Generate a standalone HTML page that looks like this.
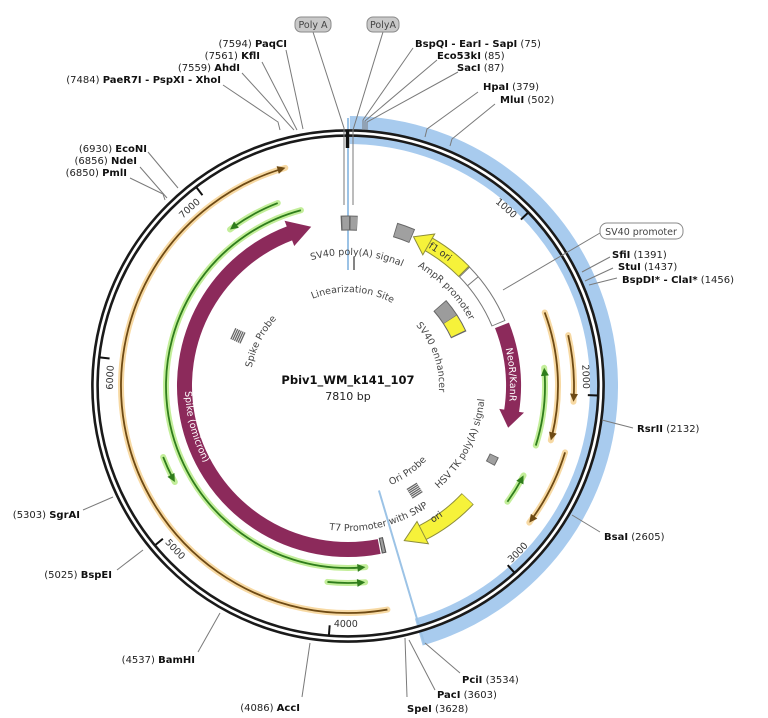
<!DOCTYPE html>
<html><head><meta charset="utf-8">
<style>
html,body{margin:0;padding:0;background:#fff;}
svg{display:block;font-family:"DejaVu Sans","Liberation Sans",sans-serif;}
.e{font-size:10px;fill:#222;}
.e .b{font-weight:bold;fill:#111;}
.c{font-size:9.5px;fill:#444;}
.w{font-size:9.5px;fill:#fff;}
.ld{stroke:#7a7a7a;stroke-width:1;fill:none;}
.a{fill:none;}
</style></head>
<body>
<svg width="768" height="718" viewBox="0 0 768 718" xmlns="http://www.w3.org/2000/svg">
<defs>
<path id="w131" d="M234.55 320.5 A131 131 0 0 1 461.45 320.5" fill="none"/>
<path id="w94" d="M266.60 339 A94 94 0 0 1 429.40 339" fill="none"/>
<path id="w138" d="M228.49 317 A138 138 0 0 1 467.51 317" fill="none"/>
<path id="w91" d="M269.19 340.5 A91 91 0 0 1 426.81 340.5" fill="none"/>
<path id="w98" d="M263.13 337 A98 98 0 0 1 432.87 337" fill="none"/>
<path id="w160" d="M209.44 306 A160 160 0 0 1 486.56 306" fill="none"/>
<path id="w162" d="M207.70 305 A162 162 0 0 1 488.30 305" fill="none"/>
<path id="w235" d="M144.48 268.5 A235 235 0 0 1 551.52 268.5" fill="none"/>
<path id="c137" d="M229.36 454.5 A137 137 0 0 0 466.64 454.5" fill="none"/>
<path id="c145" d="M222.43 458.5 A145 145 0 0 0 473.57 458.5" fill="none"/>
<path id="c108" d="M254.47 440 A108 108 0 0 0 441.53 440" fill="none"/>
<path id="c161" d="M208.57 466.5 A161 161 0 0 0 487.43 466.5" fill="none"/>
<path id="c163" d="M206.84 467.5 A163 163 0 0 0 489.16 467.5" fill="none"/>
<path id="c241" d="M139.29 506.5 A241 241 0 0 0 556.71 506.5" fill="none"/>
</defs>

<!-- blue band -->
<circle class="a" cx="348" cy="386" r="256" pathLength="360" stroke="#a8cbee" stroke-width="28" stroke-dasharray="163.6 400" transform="rotate(-89.6 348 386)"/>
<line x1="348" y1="118" x2="348" y2="270" stroke="#9cc3e6" stroke-width="2"/>
<line x1="378.96" y1="490.51" x2="424.69" y2="644.88" stroke="#9cc3e6" stroke-width="2"/>

<!-- ring -->
<circle class="a" cx="348" cy="386" r="253" stroke="#fff" stroke-width="6"/>
<circle class="a" cx="348" cy="386" r="255.6" stroke="#1a1a1a" stroke-width="2.6"/>
<circle class="a" cx="348" cy="386" r="250.4" stroke="#1a1a1a" stroke-width="2.6"/>
<line x1="347.5" y1="130" x2="347.5" y2="148" stroke="#111" stroke-width="3.5"/>
<g stroke="#111" stroke-width="2">
<line x1="348" y1="136" x2="348" y2="146" transform="rotate(46.09 348 386)"/>
<line x1="348" y1="136" x2="348" y2="146" transform="rotate(92.19 348 386)"/>
<line x1="348" y1="136" x2="348" y2="146" transform="rotate(138.28 348 386)"/>
<line x1="348" y1="136" x2="348" y2="146" transform="rotate(184.38 348 386)"/>
<line x1="348" y1="136" x2="348" y2="146" transform="rotate(230.47 348 386)"/>
<line x1="348" y1="136" x2="348" y2="146" transform="rotate(276.57 348 386)"/>
<line x1="348" y1="136" x2="348" y2="146" transform="rotate(322.66 348 386)"/>
</g>
<g style="font-size:9.5px;fill:#333">
<text transform="rotate(44.6 348 386)"><textPath href="#w235" startOffset="50%" text-anchor="end">1000</textPath></text>
<text transform="rotate(90.7 348 386)"><textPath href="#w235" startOffset="50%" text-anchor="end">2000</textPath></text>
<text transform="rotate(-42.7 348 386)"><textPath href="#c241" startOffset="50%">3000</textPath></text>
<text transform="rotate(3.4 348 386)"><textPath href="#c241" startOffset="50%">4000</textPath></text>
<text transform="rotate(49.5 348 386)"><textPath href="#c241" startOffset="50%">5000</textPath></text>
<text transform="rotate(275 348 386)"><textPath href="#w235" startOffset="50%" text-anchor="end">6000</textPath></text>
<text transform="rotate(321.2 348 386)"><textPath href="#w235" startOffset="50%" text-anchor="end">7000</textPath></text>
</g>

<!-- orange line arrows -->
<g stroke="#f7d9a3" stroke-width="6" fill="none" stroke-linecap="round">
<circle cx="348" cy="386" r="227" pathLength="360" stroke-dasharray="174 400" transform="rotate(80 348 386)"/>
<circle cx="348" cy="386" r="210" pathLength="360" stroke-dasharray="35.5 400" transform="rotate(-20.5 348 386)"/>
<circle cx="348" cy="386" r="226" pathLength="360" stroke-dasharray="17 400" transform="rotate(-13 348 386)"/>
<circle cx="348" cy="386" r="227" pathLength="360" stroke-dasharray="20 400" transform="rotate(17 348 386)"/>
</g>
<g stroke="#c3ee9a" stroke-width="6" fill="none" stroke-linecap="round">
<circle cx="348" cy="386" r="182" pathLength="360" stroke-dasharray="170.5 400" transform="rotate(84.5 348 386)"/>
<circle cx="348" cy="386" r="196" pathLength="360" stroke-dasharray="16 400" transform="rotate(233 348 386)"/>
<circle cx="348" cy="386" r="198" pathLength="360" stroke-dasharray="8 400" transform="rotate(151 348 386)"/>
<circle cx="348" cy="386" r="197" pathLength="360" stroke-dasharray="11 400" transform="rotate(85 348 386)"/>
<circle cx="348" cy="386" r="197" pathLength="360" stroke-dasharray="22.9 400" transform="rotate(-5.3 348 386)"/>
<circle cx="348" cy="386" r="197" pathLength="360" stroke-dasharray="9 400" transform="rotate(27 348 386)"/>
</g>
<g stroke="#6e4a14" stroke-width="1.8" fill="none">
<circle cx="348" cy="386" r="227" pathLength="360" stroke-dasharray="172.5 400" transform="rotate(80 348 386)"/>
<circle cx="348" cy="386" r="210" pathLength="360" stroke-dasharray="34 400" transform="rotate(-20.5 348 386)"/>
<circle cx="348" cy="386" r="226" pathLength="360" stroke-dasharray="15.5 400" transform="rotate(-13 348 386)"/>
<circle cx="348" cy="386" r="227" pathLength="360" stroke-dasharray="18.5 400" transform="rotate(17 348 386)"/>
</g>
<g stroke="#2f7d1c" stroke-width="1.8" fill="none">
<circle cx="348" cy="386" r="182" pathLength="360" stroke-dasharray="169 400" transform="rotate(86 348 386)"/>
<circle cx="348" cy="386" r="196" pathLength="360" stroke-dasharray="14.5 400" transform="rotate(234.5 348 386)"/>
<circle cx="348" cy="386" r="198" pathLength="360" stroke-dasharray="6.5 400" transform="rotate(152.5 348 386)"/>
<circle cx="348" cy="386" r="197" pathLength="360" stroke-dasharray="9.5 400" transform="rotate(86.5 348 386)"/>
<circle cx="348" cy="386" r="197" pathLength="360" stroke-dasharray="21.4 400" transform="rotate(-3.8 348 386)"/>
<circle cx="348" cy="386" r="197" pathLength="360" stroke-dasharray="7.5 400" transform="rotate(28.5 348 386)"/>
</g>
<g fill="#6e4a14">
<polygon points="348,159 340,155 340,163" transform="rotate(344 348 386)"/>
<polygon points="348,176 340,172 340,180" transform="rotate(105 348 386)"/>
<polygon points="348,160 340,156 340,164" transform="rotate(94 348 386)"/>
<polygon points="348,159 340,155 340,163" transform="rotate(127 348 386)"/>
</g>
<g fill="#2f7d1c">
<polygon points="348,204 356,200 356,208" transform="rotate(174.5 348 386)"/>
<polygon points="348,190 356,186 356,194" transform="rotate(323 348 386)"/>
<polygon points="348,188 356,184 356,192" transform="rotate(241 348 386)"/>
<polygon points="348,189 356,185 356,193" transform="rotate(175 348 386)"/>
<polygon points="348,189 356,185 356,193" transform="rotate(84.7 348 386)"/>
<polygon points="348,189 356,185 356,193" transform="rotate(117 348 386)"/>
</g>

<!-- thick features -->
<circle class="a" cx="348" cy="386" r="163.5" pathLength="360" stroke="#8c2a5b" stroke-width="15" stroke-dasharray="170.5 400" transform="rotate(79 348 386)"/>
<polygon points="323.37,210.72 348,222.5 327.12,237.46" fill="#8c2a5b" transform="rotate(347 348 386)"/>
<circle class="a" cx="348" cy="386" r="165.5" pathLength="360" stroke="#8c2a5b" stroke-width="15" stroke-dasharray="30.6 400" transform="rotate(-21.5 348 386)"/>
<polygon points="329.39,208.98 348,220.5 332.01,233.84" fill="#8c2a5b" transform="rotate(104.6 348 386)"/>
<circle class="a" cx="348" cy="386" r="163" pathLength="360" stroke="#8d8d3a" stroke-width="15.5" stroke-dasharray="15.8 400" transform="rotate(-60.3 348 386)"/>
<circle class="a" cx="348" cy="386" r="163" pathLength="360" stroke="#f6f23a" stroke-width="13.5" stroke-dasharray="15.6 400" transform="rotate(-60.5 348 386)"/>
<polygon points="366.29,211.96 348,223 363.78,235.83" fill="#f6f23a" stroke="#8d8d3a" transform="rotate(23.7 348 386)"/>
<circle class="a" cx="348" cy="386" r="164.5" pathLength="360" stroke="#8d8d3a" stroke-width="16.5" stroke-dasharray="19.8 400" transform="rotate(43.3 348 386)"/>
<circle class="a" cx="348" cy="386" r="164.5" pathLength="360" stroke="#f6f23a" stroke-width="14.5" stroke-dasharray="19.6 400" transform="rotate(43.5 348 386)"/>
<polygon points="326.43,210.32 348,221.5 329.48,235.13" fill="#f6f23a" stroke="#8d8d3a" transform="rotate(160 348 386)"/>
<!-- AmpR promoter -->
<circle class="a" cx="348" cy="386" r="163" pathLength="360" stroke="#777" stroke-width="15" stroke-dasharray="22 400" transform="rotate(-44.5 348 386)"/>
<circle class="a" cx="348" cy="386" r="163" pathLength="360" stroke="#fff" stroke-width="13" stroke-dasharray="21.4 400" transform="rotate(-44.2 348 386)"/>
<line x1="348" y1="216" x2="348" y2="230" stroke="#777" transform="rotate(50 348 386)"/>
<!-- small boxes -->
<circle class="a" cx="348" cy="386" r="122" pathLength="360" stroke="#666" stroke-width="17" stroke-dasharray="16.4 400" transform="rotate(-41.2 348 386)"/>
<circle class="a" cx="348" cy="386" r="122" pathLength="360" stroke="#9c9c9c" stroke-width="15" stroke-dasharray="7.6 400" transform="rotate(-40.8 348 386)"/>
<circle class="a" cx="348" cy="386" r="122" pathLength="360" stroke="#f6f23a" stroke-width="15" stroke-dasharray="7.6 400" transform="rotate(-33 348 386)"/>
<circle class="a" cx="348" cy="386" r="163" pathLength="360" stroke="#666" stroke-width="15" stroke-dasharray="5.8 400" transform="rotate(-92.5 348 386)"/>
<circle class="a" cx="348" cy="386" r="163" pathLength="360" stroke="#a0a0a0" stroke-width="13" stroke-dasharray="2.4 400" transform="rotate(-92 348 386)"/>
<circle class="a" cx="348" cy="386" r="163" pathLength="360" stroke="#a0a0a0" stroke-width="13" stroke-dasharray="2.3 400" transform="rotate(-89.1 348 386)"/>
<circle class="a" cx="348" cy="386" r="163" pathLength="360" stroke="#666" stroke-width="15" stroke-dasharray="6.4 400" transform="rotate(-73.2 348 386)"/>
<circle class="a" cx="348" cy="386" r="163" pathLength="360" stroke="#a0a0a0" stroke-width="13" stroke-dasharray="5.8 400" transform="rotate(-72.9 348 386)"/>
<circle class="a" cx="348" cy="386" r="162" pathLength="360" stroke="#666" stroke-width="10" stroke-dasharray="3.2 400" transform="rotate(25.4 348 386)"/>
<circle class="a" cx="348" cy="386" r="162" pathLength="360" stroke="#a0a0a0" stroke-width="8" stroke-dasharray="2.6 400" transform="rotate(25.7 348 386)"/>
<circle class="a" cx="348" cy="386" r="163" pathLength="360" stroke="#555" stroke-width="16" stroke-dasharray="1.6 400" transform="rotate(77 348 386)"/>
<circle class="a" cx="348" cy="386" r="163" pathLength="360" stroke="#a0a0a0" stroke-width="14" stroke-dasharray="0.8 400" transform="rotate(77.4 348 386)"/>
<!-- hatches -->
<g stroke="#666" stroke-width="1.3" transform="rotate(147.5 348 386)">
<line x1="342" y1="257" x2="354" y2="257"/><line x1="342" y1="259" x2="354" y2="259"/><line x1="342" y1="261" x2="354" y2="261"/><line x1="342" y1="263" x2="354" y2="263"/><line x1="342" y1="265" x2="354" y2="265"/><line x1="342" y1="267" x2="354" y2="267"/>
</g>
<g stroke="#666" stroke-width="1.3" transform="rotate(294.5 348 386)">
<line x1="342" y1="260" x2="354" y2="260"/><line x1="342" y1="262" x2="354" y2="262"/><line x1="342" y1="264" x2="354" y2="264"/><line x1="342" y1="266" x2="354" y2="266"/><line x1="342" y1="268" x2="354" y2="268"/><line x1="342" y1="270" x2="354" y2="270"/>
</g>

<!-- leader lines -->
<polyline class="ld" points="286,50 303,129"/>
<polyline class="ld" points="262,62 297,130"/>
<polyline class="ld" points="242,73 294,130"/>
<polyline class="ld" points="223,85 278,122 280,130"/>
<polyline class="ld" points="413,48 363,120 363,130"/>
<polyline class="ld" points="437,60 365,121 365,130"/>
<polyline class="ld" points="458,72 367,122 367,130"/>
<polyline class="ld" points="478,92 427,129 425,137"/>
<polyline class="ld" points="495,104 452,139 450,146"/>
<polyline class="ld" points="148,152 178,188"/>
<polyline class="ld" points="140,167 167,198"/>
<polyline class="ld" points="130,178 163,194 165,200"/>
<polyline class="ld" points="600,233 503,290"/>
<polyline class="ld" points="610,257 582,272"/>
<polyline class="ld" points="613,268 585,281"/>
<polyline class="ld" points="617,278 589,285"/>
<polyline class="ld" points="602,420 633,428"/>
<polyline class="ld" points="572,515 600,532"/>
<polyline class="ld" points="83,510 113,497"/>
<polyline class="ld" points="117,570 143,550"/>
<polyline class="ld" points="198,652 220,613"/>
<polyline class="ld" points="302,697 310,643"/>
<polyline class="ld" points="407,697 405,638"/>
<polyline class="ld" points="435,690 409,640"/>
<polyline class="ld" points="460,673 425,643"/>
<polyline class="ld" points="313,32 344,128 344,205"/>
<polyline class="ld" points="383,32 353,130 353,205"/>
<line x1="354" y1="257" x2="354" y2="270" stroke="#333" stroke-width="1.2"/>

<rect x="295" y="17" width="36" height="15" rx="6" fill="#c9c9c9" stroke="#8a8a8a"/>
<text class="c" x="313" y="28" text-anchor="middle" fill="#333">Poly A</text>
<rect x="367" y="17" width="32" height="15" rx="6" fill="#c9c9c9" stroke="#8a8a8a"/>
<text class="c" x="383" y="28" text-anchor="middle" fill="#333">PolyA</text>
<rect x="600" y="223" width="83" height="16" rx="7" fill="#fff" stroke="#8a8a8a"/>
<text class="c" x="641" y="235" text-anchor="middle" fill="#333">SV40 promoter</text>

<g class="e">
<text x="287" y="47" text-anchor="end">(7594) <tspan class="b">PaqCI</tspan></text>
<text x="260" y="59" text-anchor="end">(7561) <tspan class="b">KflI</tspan></text>
<text x="240" y="71" text-anchor="end">(7559) <tspan class="b">AhdI</tspan></text>
<text x="221" y="83" text-anchor="end">(7484) <tspan class="b">PaeR7I - PspXI - XhoI</tspan></text>
<text x="415" y="47"><tspan class="b">BspQI - EarI - SapI</tspan> (75)</text>
<text x="437" y="59"><tspan class="b">Eco53kI</tspan> (85)</text>
<text x="457" y="71"><tspan class="b">SacI</tspan> (87)</text>
<text x="483" y="90"><tspan class="b">HpaI</tspan> (379)</text>
<text x="500" y="103"><tspan class="b">MluI</tspan> (502)</text>
<text x="147" y="152" text-anchor="end">(6930) <tspan class="b">EcoNI</tspan></text>
<text x="137" y="164" text-anchor="end">(6856) <tspan class="b">NdeI</tspan></text>
<text x="127" y="176" text-anchor="end">(6850) <tspan class="b">PmlI</tspan></text>
<text x="612" y="258"><tspan class="b">SfiI</tspan> (1391)</text>
<text x="618" y="270"><tspan class="b">StuI</tspan> (1437)</text>
<text x="622" y="283"><tspan class="b">BspDI* - ClaI*</tspan> (1456)</text>
<text x="637" y="432"><tspan class="b">RsrII</tspan> (2132)</text>
<text x="604" y="540"><tspan class="b">BsaI</tspan> (2605)</text>
<text x="80" y="518" text-anchor="end">(5303) <tspan class="b">SgrAI</tspan></text>
<text x="112" y="578" text-anchor="end">(5025) <tspan class="b">BspEI</tspan></text>
<text x="195" y="663" text-anchor="end">(4537) <tspan class="b">BamHI</tspan></text>
<text x="300" y="711" text-anchor="end">(4086) <tspan class="b">AccI</tspan></text>
<text x="462" y="683"><tspan class="b">PciI</tspan> (3534)</text>
<text x="437" y="698"><tspan class="b">PacI</tspan> (3603)</text>
<text x="407" y="712"><tspan class="b">SpeI</tspan> (3628)</text>
</g>

<text x="348" y="384" text-anchor="middle" style="font-size:11.5px;font-weight:bold;fill:#111">Pbiv1_WM_k141_107</text>
<text x="348" y="400" text-anchor="middle" style="font-size:11px;fill:#222">7810 bp</text>

<g class="c">
<text transform="rotate(4 348 386)"><textPath href="#w131" startOffset="50%" text-anchor="middle">SV40 poly(A) signal</textPath></text>
<text transform="rotate(3 348 386)"><textPath href="#w94" startOffset="50%" text-anchor="middle">Linearization Site</textPath></text>
<text transform="rotate(46 348 386)"><textPath href="#w138" startOffset="50%" text-anchor="middle">AmpR promoter</textPath></text>
<text transform="rotate(71 348 386)"><textPath href="#w91" startOffset="50%" text-anchor="middle">SV40 enhancer</textPath></text>
<text transform="rotate(297 348 386)"><textPath href="#w98" startOffset="50%" text-anchor="middle">Spike Probe</textPath></text>
<text transform="rotate(-63 348 386)"><textPath href="#c137" startOffset="50%" text-anchor="middle">HSV TK poly(A) signal</textPath></text>
<text transform="rotate(-13 348 386)"><textPath href="#c145" startOffset="50%" text-anchor="middle">T7 Promoter with SNP</textPath></text>
<text transform="rotate(-35 348 386)"><textPath href="#c108" startOffset="50%" text-anchor="middle">Ori Probe</textPath></text>
<text transform="rotate(34.5 348 386)" style="fill:#333"><textPath href="#w160" startOffset="50%" text-anchor="middle">f1 ori</textPath></text>
<text transform="rotate(-34 348 386)" style="fill:#333"><textPath href="#c161" startOffset="50%" text-anchor="middle">ori</textPath></text>
</g>
<g class="w">
<text transform="rotate(86 348 386)"><textPath href="#w162" startOffset="50%" text-anchor="middle">NeoR/KanR</textPath></text>
<text transform="rotate(75 348 386)"><textPath href="#c163" startOffset="50%" text-anchor="middle">Spike (omicron)</textPath></text>
</g>
</svg>
</body></html>
